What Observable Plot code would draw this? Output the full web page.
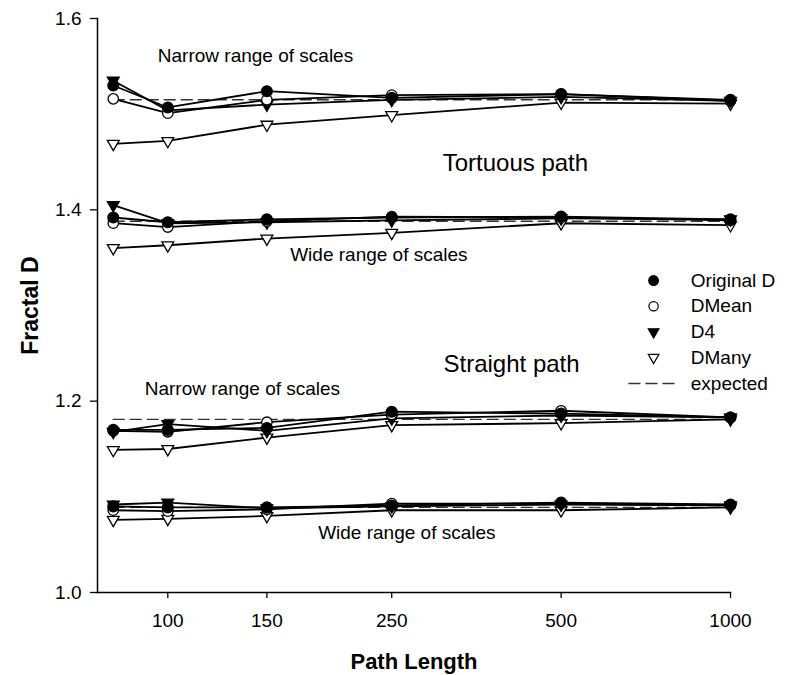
<!DOCTYPE html>
<html><head><meta charset="utf-8">
<script src="https://cdn.jsdelivr.net/npm/d3@7"></script>
<script src="https://cdn.jsdelivr.net/npm/@observablehq/plot@0.6"></script>
<style>body{margin:0;background:#fff}</style>
</head><body><div id="chart"></div>
<script>
// Path lengths (x)
const lengths = [80, 100, 150, 250, 500, 1000];
const xTicks = [100, 150, 250, 500, 1000];
const yTicks = [1.0, 1.2, 1.4, 1.6];
const seriesNames = ["Original D", "DMean", "D4", "DMany"];

// Tortuous path, narrow range of scales
const tortNarrowOrig  = [1.530, 1.507, 1.524, 1.517, 1.521, 1.515];
const tortNarrowMean  = [1.516, 1.501, 1.515, 1.520, 1.521, 1.514];
const tortNarrowD4    = [1.535, 1.504, 1.510, 1.515, 1.518, 1.514];
const tortNarrowMany  = [1.469, 1.472, 1.489, 1.499, 1.512, 1.511];
const tortNarrowExpected = 1.515;

// Tortuous path, wide range of scales
const tortWideOrig  = [1.392, 1.387, 1.390, 1.392, 1.393, 1.390];
const tortWideMean  = [1.386, 1.382, 1.388, 1.393, 1.392, 1.389];
const tortWideD4    = [1.405, 1.386, 1.387, 1.389, 1.391, 1.390];
const tortWideMany  = [1.360, 1.363, 1.370, 1.376, 1.386, 1.384];
const tortWideExpected = 1.388;

// Straight path, narrow range of scales
const strNarrowOrig  = [1.170, 1.170, 1.172, 1.189, 1.187, 1.183];
const strNarrowMean  = [1.169, 1.168, 1.178, 1.186, 1.190, 1.183];
const strNarrowD4    = [1.168, 1.176, 1.169, 1.182, 1.185, 1.183];
const strNarrowMany  = [1.149, 1.150, 1.162, 1.175, 1.177, 1.181];
const strNarrowExpected = 1.181;

// Straight path, wide range of scales
const strWideOrig  = [1.090, 1.089, 1.089, 1.091, 1.094, 1.092];
const strWideMean  = [1.086, 1.085, 1.087, 1.093, 1.093, 1.091];
const strWideD4    = [1.092, 1.094, 1.088, 1.090, 1.092, 1.091];
const strWideMany  = [1.076, 1.077, 1.080, 1.086, 1.086, 1.089];
const strWideExpected = 1.089;

// Annotations (text, x, y in data units)
const noteText = ["Narrow range of scales", "Tortuous path", "Wide range of scales", "Straight path", "Narrow range of scales", "Wide range of scales"];
const noteX = [96, 308, 165, 309, 91, 185];
const noteY = [1.561, 1.449, 1.3527, 1.2389, 1.213, 1.0625];
const noteSize = [19, 24, 19, 24, 19, 19];

// Legend
const legendLabels = ["Original D", "DMean", "D4", "DMany", "expected"];
const legendY = [1.3261, 1.2992, 1.2724, 1.2457, 1.2185];
const legendSymX = 730, legendTextX = 850, legendDash = [660, 805];

const groups = [
  {name: "tn", series: [tortNarrowOrig, tortNarrowMean, tortNarrowD4, tortNarrowMany], expected: tortNarrowExpected},
  {name: "tw", series: [tortWideOrig, tortWideMean, tortWideD4, tortWideMany], expected: tortWideExpected},
  {name: "sn", series: [strNarrowOrig, strNarrowMean, strNarrowD4, strNarrowMany], expected: strNarrowExpected},
  {name: "sw", series: [strWideOrig, strWideMean, strWideD4, strWideMany], expected: strWideExpected}
];

const rows = [];
groups.forEach(g => g.series.forEach((vals, si) => vals.forEach((v, i) =>
  rows.push({group: g.name, series: seriesNames[si], x: lengths[i], y: v}))));
const expRows = [];
groups.forEach(g => [lengths[0], lengths[lengths.length - 1]].forEach(x => expRows.push({group: g.name, x, y: g.expected})));
const notes = noteText.map((t, i) => ({t, x: noteX[i], y: noteY[i], s: noteSize[i]}));

const styles = {
  "Original D": {symbol: "circle", fill: "black", stroke: "black", r: 5.4, rotate: 0},
  "DMean": {symbol: "circle", fill: "white", stroke: "black", r: 5.2, rotate: 0},
  "D4": {symbol: "triangle", fill: "black", stroke: "black", r: 4.4, rotate: 180},
  "DMany": {symbol: "triangle", fill: "white", stroke: "black", r: 4.4, rotate: 180}
};
const drawOrder = ["DMany", "D4", "DMean", "Original D"];

const dotMarks = drawOrder.map(s => Plot.dot(rows.filter(d => d.series === s), {
  x: "x", y: "y", symbol: styles[s].symbol, fill: styles[s].fill, stroke: styles[s].stroke,
  strokeWidth: 1.3, r: styles[s].r, rotate: styles[s].rotate
}));

const legendRows = legendLabels.slice(0, 4).map((l, i) => ({l, x: legendSymX, y: legendY[i]}));
const legendDots = legendRows.map(d => Plot.dot([d], {
  x: "x", y: "y", symbol: styles[d.l].symbol, fill: styles[d.l].fill, stroke: styles[d.l].stroke,
  strokeWidth: 1.2, r: styles[d.l].r * 0.9, rotate: styles[d.l].rotate
}));
const legendTexts = legendLabels.map((l, i) => ({l, x: legendTextX, y: legendY[i]}));
const legendLine = legendDash.map(x => ({x, y: legendY[4]}));

const chart = Plot.plot({
  width: 786, height: 675,
  marginLeft: 97, marginRight: 56, marginTop: 18, marginBottom: 83,
  style: {fontFamily: "'Liberation Sans', Arial, sans-serif", color: "black", background: "white"},
  x: {type: "log", domain: [75, 1000]},
  y: {domain: [1.0, 1.6]},
  marks: [
    Plot.axisY({ticks: yTicks, tickFormat: d3.format(".1f"), tickSize: 7, tickPadding: 9, fontSize: 19, label: null, strokeWidth: 1.3}),
    Plot.axisX({ticks: xTicks, tickFormat: d => String(d), tickSize: 6, tickPadding: 15, fontSize: 19, label: null, strokeWidth: 1.3}),
    Plot.frame({anchor: "left", stroke: "black", strokeWidth: 1.5}),
    Plot.frame({anchor: "bottom", stroke: "black", strokeWidth: 1.5}),
    Plot.line(expRows, {x: "x", y: "y", z: "group", stroke: "#333", strokeWidth: 1.4, strokeDasharray: "11,6"}),
    Plot.line(rows, {x: "x", y: "y", z: d => d.group + d.series, stroke: "black", strokeWidth: 1.8}),
    ...dotMarks,
    Plot.text(notes, {x: "x", y: "y", text: "t", fontSize: "s", textAnchor: "start", lineAnchor: "middle", fill: "black"}),
    ...legendDots,
    Plot.text(legendTexts, {x: "x", y: "y", text: "l", fontSize: 19, textAnchor: "start", lineAnchor: "middle", fill: "black"}),
    Plot.line(legendLine, {x: "x", y: "y", stroke: "#333", strokeWidth: 1.4, strokeDasharray: "11,6"}),
    Plot.text(["Path Length"], {text: d => d, frameAnchor: "bottom", lineAnchor: "middle", dy: 69, fontSize: 22, fontWeight: "bold", fill: "black"}),
    Plot.text(["Fractal D"], {text: d => d, frameAnchor: "left", rotate: -90, textAnchor: "middle", lineAnchor: "middle", dx: -67, fontSize: 23, fontWeight: "bold", fill: "black"})
  ]
});
document.getElementById("chart").appendChild(chart);
</script>
</body></html>
